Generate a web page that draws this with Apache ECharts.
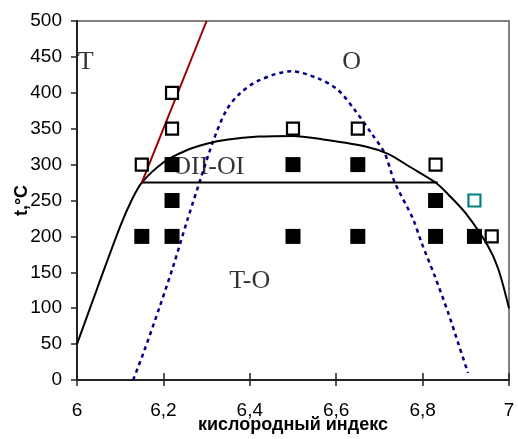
<!DOCTYPE html>
<html><head><meta charset="utf-8">
<script src="https://cdn.jsdelivr.net/npm/echarts@6/dist/echarts.min.js"></script>
<style>html,body{margin:0;padding:0;background:#fff}#c{width:518px;height:439px}</style>
</head><body><div id="c"></div>
<script>
// x tick labels
const xTicks = ['6','6,2','6,4','6,6','6,8','7'];
// open squares (black outline)
const openPts = [[6.15,300],[6.22,400],[6.22,350],[6.5,350],[6.65,350],[6.83,300],[6.96,200]];
// open square (teal outline)
const tealPts = [[6.92,250]];
// filled squares
const filledPts = [[6.15,200],[6.22,300],[6.22,250],[6.22,200],[6.5,300],[6.65,300],[6.5,200],[6.65,200],[6.83,250],[6.83,200],[6.92,200]];
// black dome curve
const domeCurve = [[6.0,50],[6.05,133],[6.1,214],[6.127,251],[6.15,275],[6.2,303],[6.25,319],[6.3,329],[6.35,335],[6.42,339],[6.5,340],[6.57,335],[6.67,325],[6.72,315],[6.77,297],[6.83,275],[6.86,258],[6.9,232],[6.95,188],[6.975,155],[7.0,100]];
// horizontal line OII-OI boundary
const flatLine = [[6.15,275],[6.835,275]];
// red T boundary
const redLine = [[6.15,275],[6.30,500]];
// blue dotted curve
const blueCurve = [[6.13,0],[6.154,38],[6.192,103],[6.223,159],[6.254,220],[6.285,278],[6.316,334],[6.346,376],[6.377,399],[6.42,417],[6.496,430],[6.558,420],[6.604,404],[6.643,376],[6.681,344],[6.712,316],[6.735,276],[6.778,224],[6.797,192],[6.828,145],[6.859,94],[6.882,52],[6.905,10]];
// region labels
const regionLabels = [
  {name:'T', value:[6.02,443]},
  {name:'O', value:[6.636,443]},
  {name:'OII-OI', value:[6.304,297]},
  {name:'T-O', value:[6.40,138]}
];

const chart = echarts.init(document.getElementById('c'));
const serif = '"Liberation Serif","Times New Roman",serif';
const sans = '"Liberation Sans",Arial,sans-serif';
chart.setOption({
  animation:false,
  grid:{left:77,right:9,top:21,bottom:59,containLabel:false,outerBoundsMode:'none',show:true,borderColor:'#808080',borderWidth:2,backgroundColor:'transparent'},
  xAxis:[{
    type:'value',min:6,max:7,interval:0.2,
    axisLine:{show:true,lineStyle:{color:'#222',width:2}},
    axisTick:{show:true,inside:false,length:6,lineStyle:{color:'#222',width:1.5}},
    splitLine:{show:false},
    axisLabel:{margin:21,color:'#000',fontFamily:sans,fontSize:19,
      formatter:function(v){const i=Math.round((v-6)/0.2);return xTicks[i]!==undefined?xTicks[i]:'';}},
    name:'кислородный индекс',nameLocation:'middle',nameGap:36,nameMoveOverlap:false,
    nameTextStyle:{color:'#000',fontFamily:sans,fontSize:18,fontWeight:'bold'}
  },{
    type:'value',min:6,max:7,interval:0.2,position:'bottom',
    axisLine:{show:false},
    axisTick:{show:true,inside:true,length:7,lineStyle:{color:'#222',width:1.5}},
    splitLine:{show:false},axisLabel:{show:false}
  }],
  yAxis:{
    type:'value',min:0,max:500,interval:50,
    axisLine:{show:true,lineStyle:{color:'#222',width:2}},
    axisTick:{show:true,length:6,lineStyle:{color:'#222',width:1.5}},
    splitLine:{show:false},
    axisLabel:{margin:15,color:'#000',fontFamily:sans,fontSize:19},
    name:'t,°C',nameLocation:'middle',nameGap:46,nameRotate:90,nameMoveOverlap:false,
    nameTextStyle:{color:'#000',fontFamily:sans,fontSize:18,fontWeight:'bold'}
  },
  series:[
    {type:'scatter',data:regionLabels,symbolSize:0,z:1,silent:true,
      label:{show:true,position:'inside',formatter:'{b}',color:'#000',fontFamily:serif,fontSize:26}},
    {type:'line',data:blueCurve,smooth:0.3,showSymbol:false,z:2,
      lineStyle:{color:'#000080',width:2.5,type:[4,4]}},
    {type:'line',data:domeCurve,smooth:0.3,showSymbol:false,z:3,
      lineStyle:{color:'#000',width:2}},
    {type:'line',data:flatLine,showSymbol:false,z:3,lineStyle:{color:'#000',width:2}},
    {type:'line',data:redLine,showSymbol:false,z:3,lineStyle:{color:'#990000',width:2}},
    {type:'scatter',data:filledPts,symbol:'rect',symbolSize:15,z:4,itemStyle:{color:'#000',opacity:1}},
    {type:'scatter',data:openPts,symbol:'rect',symbolSize:12,z:4,itemStyle:{color:'#fff',borderColor:'#000',borderWidth:2.2,opacity:1}},
    {type:'scatter',data:tealPts,symbol:'rect',symbolSize:12,z:4,itemStyle:{color:'#fff',borderColor:'#008080',borderWidth:2.2,opacity:1}}
  ]
});
</script></body></html>
